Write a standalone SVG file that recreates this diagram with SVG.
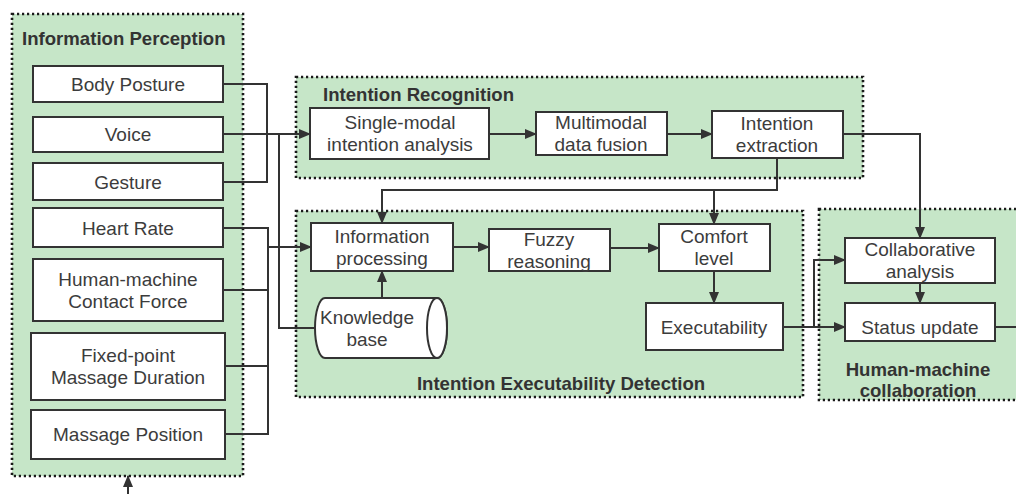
<svg xmlns="http://www.w3.org/2000/svg" width="1016" height="494" viewBox="0 0 1016 494">
<style>
.grp{fill:#c6e6c8;stroke:#1a1a1a;stroke-width:2.6;stroke-dasharray:2.2 2.8}
.box{fill:#fff;stroke:#333;stroke-width:2}
.t{font-family:"Liberation Sans",Arial,sans-serif;font-size:19px;fill:#3c3c3c;text-anchor:middle;dominant-baseline:central}
.h{font-family:"Liberation Sans",Arial,sans-serif;font-size:18.6px;font-weight:bold;fill:#333;dominant-baseline:central}
.ln{fill:none;stroke:#333;stroke-width:2}
</style>
<defs>
<marker id="ah" markerWidth="12" markerHeight="10" refX="11" refY="5" orient="auto" markerUnits="userSpaceOnUse">
<path d="M0,0 L12,5 L0,10 Z" fill="#333"/>
</marker>
</defs>
<rect width="1016" height="494" fill="#fff"/>

<g id="perception">
<rect class="grp" x="12" y="14" width="231" height="462"/>
<text class="h" x="22" y="38">Information Perception</text>
</g>
<g id="recognition">
<rect class="grp" x="296" y="77" width="567" height="101"/>
<text class="h" x="323" y="94">Intention Recognition</text>
</g>
<g id="detection">
<rect class="grp" x="296" y="211" width="507" height="186"/>
<text class="h" x="561" y="383" text-anchor="middle">Intention Executability Detection</text>
</g>
<g id="collaboration">
<rect class="grp" x="819" y="209" width="210" height="191"/>
<text class="h" x="918" y="369" text-anchor="middle">Human-machine</text>
<text class="h" x="918" y="390" text-anchor="middle">collaboration</text>
</g>

<g id="body-posture"><rect class="box" x="33" y="66" width="190" height="36"/><text class="t" x="128" y="84">Body Posture</text></g>
<g id="voice"><rect class="box" x="33" y="117" width="190" height="35"/><text class="t" x="128" y="134">Voice</text></g>
<g id="gesture"><rect class="box" x="33" y="163" width="190" height="37"/><text class="t" x="128" y="182">Gesture</text></g>
<g id="heart-rate"><rect class="box" x="33" y="208" width="190" height="39"/><text class="t" x="128" y="228">Heart Rate</text></g>
<g id="contact-force"><rect class="box" x="33" y="259" width="190" height="62"/><text class="t" x="128" y="279">Human-machine</text><text class="t" x="128" y="301">Contact Force</text></g>
<g id="massage-duration"><rect class="box" x="31" y="333" width="194" height="67"/><text class="t" x="128" y="355.5">Fixed-point</text><text class="t" x="128" y="377.5">Massage Duration</text></g>
<g id="massage-position"><rect class="box" x="31" y="410" width="194" height="49"/><text class="t" x="128" y="434">Massage Position</text></g>

<g id="single-modal"><rect class="box" x="310" y="108" width="179" height="51"/><text class="t" x="400" y="122.5">Single-modal</text><text class="t" x="400" y="144.5">intention analysis</text></g>
<g id="multimodal"><rect class="box" x="536" y="112" width="131" height="43"/><text class="t" x="601" y="122.5">Multimodal</text><text class="t" x="601" y="144.5">data fusion</text></g>
<g id="intention-extraction"><rect class="box" x="712" y="111" width="131" height="47"/><text class="t" x="777" y="123">Intention</text><text class="t" x="777" y="145">extraction</text></g>

<g id="information-processing"><rect class="box" x="311" y="223" width="142" height="48"/><text class="t" x="382" y="236">Information</text><text class="t" x="382" y="258">processing</text></g>
<g id="fuzzy-reasoning"><rect class="box" x="489" y="229" width="121" height="42"/><text class="t" x="549" y="239">Fuzzy</text><text class="t" x="549" y="261">reasoning</text></g>
<g id="comfort-level"><rect class="box" x="659" y="224" width="111" height="47"/><text class="t" x="714" y="236.5">Comfort</text><text class="t" x="714" y="258.5">level</text></g>
<g id="executability"><rect class="box" x="646" y="303" width="137" height="47"/><text class="t" x="714" y="327">Executability</text></g>
<g id="knowledge-base">
<path class="box" d="M325,298 L437,298 A10,30 0 0 1 437,358 L325,358 A10,30 0 0 1 325,298 Z"/>
<ellipse class="box" cx="437" cy="328" rx="10" ry="30"/>
<text class="t" x="367" y="317.5">Knowledge</text><text class="t" x="367" y="339.5">base</text>
</g>

<g id="collaborative-analysis"><rect class="box" x="845" y="238" width="150" height="45"/><text class="t" x="920" y="249.5">Collaborative</text><text class="t" x="920" y="271.5">analysis</text></g>
<g id="status-update"><rect class="box" x="845" y="303" width="150" height="38"/><text class="t" x="920" y="327">Status update</text></g>

<g id="connectors">
<path class="ln" d="M223,84 H267 V182 H223"/>
<path class="ln" d="M223,134 H310" marker-end="url(#ah)"/>
<path class="ln" d="M279,134 V328 H316"/>
<path class="ln" d="M223,228 H268 V434 H225"/>
<path class="ln" d="M223,290 H268"/>
<path class="ln" d="M225,366 H268"/>
<path class="ln" d="M268,247 H311" marker-end="url(#ah)"/>
<path class="ln" d="M489,134 H536" marker-end="url(#ah)"/>
<path class="ln" d="M667,134 H712" marker-end="url(#ah)"/>
<path class="ln" d="M777,158 V190 H382 V223" marker-end="url(#ah)"/>
<path class="ln" d="M714,190 V224" marker-end="url(#ah)"/>
<path class="ln" d="M453,247 H489" marker-end="url(#ah)"/>
<path class="ln" d="M610,248 H659" marker-end="url(#ah)"/>
<path class="ln" d="M714,271 V303" marker-end="url(#ah)"/>
<path class="ln" d="M382,298 V271" marker-end="url(#ah)"/>
<path class="ln" d="M843,134 H920 V238" marker-end="url(#ah)"/>
<path class="ln" d="M920,283 V303" marker-end="url(#ah)"/>
<path class="ln" d="M783,327 H845" marker-end="url(#ah)"/>
<path class="ln" d="M814,327 V260 H845" marker-end="url(#ah)"/>
<path class="ln" d="M995,327 H1016"/>
<path class="ln" d="M128,494 V476" marker-end="url(#ah)"/>
</g>
</svg>
